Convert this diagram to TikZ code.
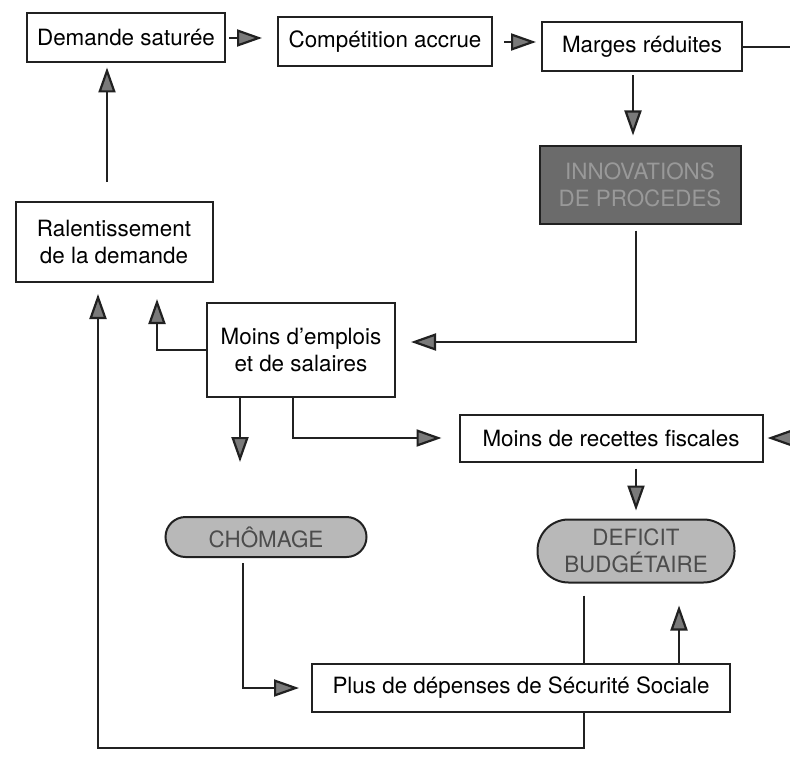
\documentclass[tikz,border=0pt]{standalone}
\usepackage{fontspec}
\setmainfont{TeX Gyre Heros}
\usetikzlibrary{arrows.meta}
\definecolor{ink}{gray}{0.13}
\definecolor{dark-gray}{gray}{0.42}
\definecolor{dim-text}{gray}{0.60}
\definecolor{mid-gray}{gray}{0.72}
\definecolor{pill-text}{gray}{0.30}
\definecolor{head-gray}{gray}{0.48}

\begin{document}
\begin{tikzpicture}[x=0.5pt, y=-0.5pt, font=\fontsize{11.2}{13.5}\selectfont,
  box/.style={draw=ink, line width=1pt, fill=white, align=center, inner sep=0pt},
  pill/.style={box, fill=mid-gray, text=pill-text, rounded corners=#1},
  arr/.style={draw=ink, line width=1.1pt, -{Triangle[length=12.5pt, width=8.5pt, fill=head-gray]}},
  link/.style={draw=ink, line width=1.1pt}]
\useasboundingbox (0,0) rectangle (790,759);
\coordinate (edgeR) at (790,0);
% top row
  \node[box, minimum width=99pt, minimum height=24.5pt] (dem) at (126,38) {Demande saturée};
  \node[box, minimum width=107pt, minimum height=24.5pt] (comp) at (385,42) {Compétition accrue};
  \node[box, minimum width=100pt, minimum height=24.5pt] (marg) at (642,47) {Marges réduites};
  \node[box, fill=dark-gray, text=dim-text, minimum width=100.5pt, minimum height=38.5pt] (innov) at (640,185) {INNOVATIONS\\DE PROCEDES};
% middle
  \node[box, minimum width=98.5pt, minimum height=40pt] (ral) at (114,242) {Ralentissement\\de la demande};
  \node[box, minimum width=94pt, minimum height=47pt] (moins) at (301,350) {Moins d’emplois\\et de salaires};
  \node[box, minimum width=151.5pt, minimum height=23.5pt] (recet) at (611,438) {Moins de recettes fiscales};
% bottom
  \node[pill=10pt, minimum width=100.5pt, minimum height=20pt] (chom) at (266,537) {CHÔMAGE};
  \node[pill=15.5pt, minimum width=98.5pt, minimum height=31.5pt] (def) at (636,551) {DEFICIT\\BUDGÉTAIRE};
  \node[box, minimum width=209pt, minimum height=24pt] (secu) at (521,688) {Plus de dépenses de Sécurité Sociale};
% connectors
  \coordinate (demin) at ([xshift=-9.5pt]dem.south);
  \coordinate (chomin) at (240,462);
  \coordinate (defin) at ([xshift=21.5pt]def.south);
  \coordinate (defout) at ([xshift=-26pt]def.south);
  \coordinate (loop) at (98,748);
  \draw[arr, shorten <=1.5pt, shorten >=7.5pt] (dem.east) -- (dem.east -| comp.west);
  \draw[arr, shorten <=5.5pt, shorten >=2.5pt] (comp.east) -- (comp.east -| marg.west);
  \draw[link] (marg.east) -- (marg.east -| edgeR);
  \draw[arr, shorten <=1.5pt, shorten >=5pt] ([xshift=-4.5pt]marg.south) -- ([xshift=-4.5pt]marg.south |- innov.north);
  \draw[arr, shorten <=3pt, shorten >=7.5pt] ([xshift=-2pt]innov.south) |- ([yshift=4pt]moins.east);
  \draw[arr, shorten >=8pt] (moins.west) -| ([xshift=21.5pt]ral.south);
  \draw[arr] (moins.south -| chomin) -- (chomin);
  \draw[arr, shorten >=8.5pt] ([xshift=-4pt]moins.south) |- (recet.west);
  \draw[arr, shorten >=2pt] (recet.east -| edgeR) -- (recet.east);
  \draw[arr, shorten <=3pt, shorten >=4pt] (recet.south -| def.north) -- (def.north);
  \draw[arr, shorten <=2.5pt, shorten >=6pt] ([xshift=-11.5pt]chom.south) |- (secu.west);
  \draw[arr, shorten >=11pt] (secu.north -| defin) -- (defin);
  \draw[link, shorten <=6pt] (defout) -- (defout |- secu.north);
  \draw[arr, shorten >=5.5pt] (defout |- secu.south) |- (loop) -- (loop |- ral.south);
  \draw[arr, shorten <=9.5pt, shorten >=2pt] (ral.north -| demin) -- (demin);
\end{tikzpicture}
\end{document}
